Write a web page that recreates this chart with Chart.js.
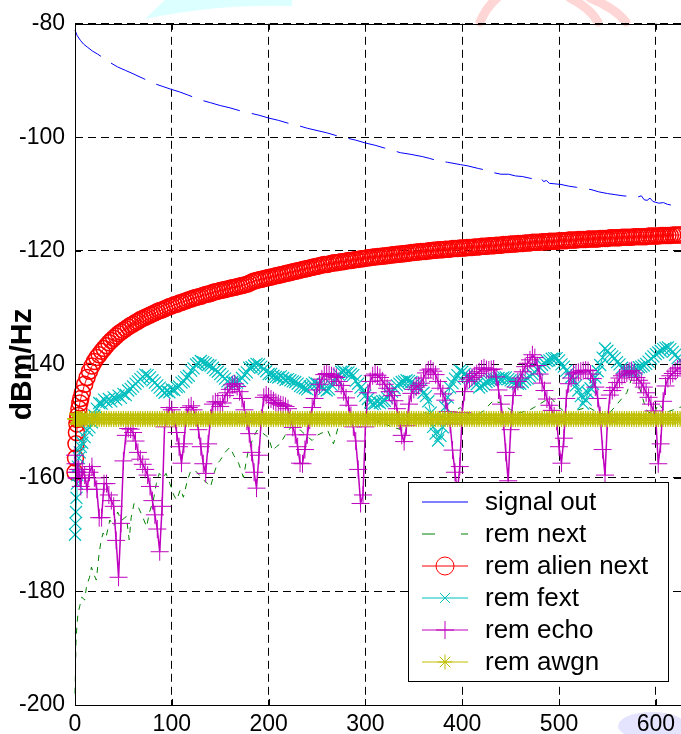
<!DOCTYPE html>
<html><head><meta charset="utf-8">
<script src="https://cdn.jsdelivr.net/npm/chart.js@4/dist/chart.umd.min.js"></script>
<style>html,body{margin:0;padding:0;background:#fff;overflow:hidden}canvas{display:block}</style>
</head><body>
<canvas id="c" width="681" height="734"></canvas>
<script>
// ---------- DATA ----------
const seriesNames = ['signal out','rem next','rem alien next','rem fext','rem echo','rem awgn'];
const xTicks = [0,100,200,300,400,500,600];
const yTicks = [-80,-100,-120,-140,-160,-180,-200];
const yLabel = 'dBm/Hz';

const signalX = [0,2,5.5,9,12.7,18,23,31,37,44,52,60,70,83,90,98.6,108,116,122,129.5,
140,150,160,170,180,190,200,210,220,230,240,250,260,270,280,290,300,310,320,330,
336,347,359,366,374,385,398,405,417,425,432,440,448,455,462,470,477,481,484,487,
490,496,502,510,518,525,533,541,550,558,566,573,580,585,588,591,594,597,603,608,
612,618,622,626];
const signalY = [-81.1,-82,-82.9,-83.6,-84.1,-84.8,-85.3,-86.2,-86.9,-87.6,-88.2,-88.8,-89.6,-90.6,-91,-91.5,-92,-92.5,-92.9,-93.4,
-93.9,-94.4,-94.8,-95.3,-95.7,-96.1,-96.6,-97,-97.5,-97.9,-98.4,-98.8,-99.2,-99.7,-100.1,-100.5,-101,-101.4,-101.9,-102.4,
-102.7,-103,-103.4,-103.7,-104.1,-104.4,-104.8,-105,-105.5,-105.8,-106.2,-106.5,-106.5,-106.8,-106.9,-107.2,-107.5,-107.1,-107.8,-107.6,
-108.1,-108.2,-108.3,-108.6,-108.8,-109,-109.2,-109.6,-109.9,-110.1,-110.3,-110.4,-110.6,-110.3,-111,-111.1,-110.7,-111.3,-111.6,-111.5,
-111.8,-112,-111.9,-112.2];

const nextX = [0,0.5,1,2,3,5,7,10,12,15,17,19,22,25,27,29,32,36,40,44,
48,53,56,58,61,65,69,74,77,81,84,87,91,94,98,102,105,109,112,116,
119,122,126,129,133,137,140,144,147,150,155,160,164,169,174,177,179,184,188,193,
197,200,204,208,212,217,223,228,233,238,242,245,250,256,261,267,272,278,285,292,
300,310,320,329,339,345,352,360,370,380,390,398,401,410,420,432,440,450,460,470,
480,491,500,510,520,530,540,550,560,570,575,579,583,590,597,603,610,618,626];
const nextY = [-198,-194,-189,-186,-184,-182.5,-181,-181.5,-179,-177.5,-175.7,-176.8,-178,-173.2,-171,-169.7,-170.5,-167.4,-168.5,-166,
-167.5,-166.8,-170.9,-167,-164.5,-165,-166.5,-168.6,-166,-163.9,-161,-159.2,-160,-159.2,-161,-163,-163.9,-162,-163.4,-160.5,
-159,-158.6,-159,-159.6,-160.4,-161,-161.6,-159,-157.5,-156.9,-155.5,-154.6,-156,-157.4,-159.9,-157,-155.2,-153,-151.6,-152,
-152.5,-152.9,-155.2,-154.5,-154,-152.5,-151.1,-151.3,-151.6,-152.4,-153,-153.4,-152.5,-152,-151.6,-154,-151,-150,-149.5,-150,
-149.3,-149.8,-150.5,-151.1,-151.6,-150,-149,-148.5,-148.8,-149.2,-148.5,-147.6,-148.1,-149,-148.5,-146.4,-146.8,-148,-148.5,-148,
-147,-145.8,-147.5,-149,-148,-147.5,-148.5,-149,-147,-145,-142.5,-140.6,-144,-148,-149,-146.9,-148.5,-148,-147.5];

// tone grid shared by the marker series
const toneX = [0,0.5,1,1.5,2,2.5,3,4,5,6,7.5,
10,12.5,15,17.5,20,22.5,25,27.5,30,32.5,
35,37.5,40,42.5,45,47.5,50,52.5,55,57.5,
60,62.5,65,67.5,70,72.5,75,77.5,80,82.5,
85,87.5,90,92.5,95,97.5,100,102.5,105,107.5,
110,112.5,115,117.5,120,122.5,125,127.5,130,132.5,
135,137.5,140,142.5,145,147.5,150,152.5,155,157.5,
160,162.5,165,167.5,170,172.5,175,177.5,180,182.5,
185,187.5,190,192.5,195,197.5,200,202.5,205,207.5,
210,212.5,215,217.5,220,222.5,225,227.5,230,232.5,
235,237.5,240,242.5,245,247.5,250,252.5,255,257.5,
260,262.5,265,267.5,270,272.5,275,277.5,280,282.5,
285,287.5,290,292.5,295,297.5,300,302.5,305,307.5,
310,312.5,315,317.5,320,322.5,325,327.5,330,332.5,
335,337.5,340,342.5,345,347.5,350,352.5,355,357.5,
360,362.5,365,367.5,370,372.5,375,377.5,380,382.5,
385,387.5,390,392.5,395,397.5,400,402.5,405,407.5,
410,412.5,415,417.5,420,422.5,425,427.5,430,432.5,
435,437.5,440,442.5,445,447.5,450,452.5,455,457.5,
460,462.5,465,467.5,470,472.5,475,477.5,480,482.5,
485,487.5,490,492.5,495,497.5,500,502.5,505,507.5,
510,512.5,515,517.5,520,522.5,525,527.5,530,532.5,
535,537.5,540,542.5,545,547.5,550,552.5,555,557.5,
560,562.5,565,567.5,570,572.5,575,577.5,580,582.5,
585,587.5,590,592.5,595,597.5,600,602.5,605,607.5,
610,612.5,615,617.5,620,622.5,625];

const alienY = [-159,-156.5,-154,-152,-150.5,-149.7,-149,-147.8,-146.8,-146,-145,
-143.5,-142.3,-141.2,-140.3,-139.5,-138.8,-138.3,-137.7,-137.2,-136.7,
-136.2,-135.8,-135.4,-135,-134.6,-134.3,-134,-133.7,-133.4,-133.1,
-132.9,-132.6,-132.4,-132.1,-131.9,-131.7,-131.5,-131.3,-131.1,-130.9,
-130.7,-130.5,-130.4,-130.2,-130,-129.8,-129.7,-129.5,-129.4,-129.2,
-129.1,-128.9,-128.8,-128.6,-128.5,-128.3,-128.2,-128.1,-128,-127.8,
-127.7,-127.6,-127.5,-127.3,-127.2,-127.1,-127,-126.9,-126.8,-126.7,
-126.6,-126.5,-126.4,-126.3,-126.2,-126.1,-126,-125.9,-125.7,-125.5,
-125.3,-125.2,-125.1,-125,-124.9,-124.8,-124.7,-124.6,-124.5,-124.4,
-124.3,-124.2,-124.1,-124,-123.9,-123.8,-123.7,-123.6,-123.5,-123.4,
-123.3,-123.2,-123.1,-123,-122.9,-122.8,-122.7,-122.6,-122.5,-122.4,
-122.4,-122.3,-122.2,-122.1,-122.1,-122,-121.9,-121.9,-121.8,-121.7,
-121.7,-121.6,-121.5,-121.5,-121.4,-121.4,-121.3,-121.2,-121.2,-121.1,
-121.1,-121,-121,-120.9,-120.9,-120.8,-120.8,-120.7,-120.7,-120.6,
-120.6,-120.5,-120.5,-120.4,-120.4,-120.3,-120.3,-120.2,-120.2,-120.1,
-120.1,-120.1,-120,-120,-119.9,-119.9,-119.8,-119.8,-119.8,-119.7,
-119.7,-119.7,-119.6,-119.6,-119.6,-119.5,-119.5,-119.5,-119.4,-119.4,
-119.4,-119.3,-119.3,-119.3,-119.2,-119.2,-119.2,-119.1,-119.1,-119.1,
-119,-119,-119,-118.9,-118.9,-118.9,-118.8,-118.8,-118.8,-118.7,
-118.7,-118.7,-118.6,-118.6,-118.6,-118.5,-118.5,-118.5,-118.5,-118.4,
-118.4,-118.4,-118.3,-118.3,-118.3,-118.3,-118.2,-118.2,-118.2,-118.2,
-118.1,-118.1,-118.1,-118.1,-118,-118,-118,-118,-117.9,-117.9,
-117.9,-117.9,-117.9,-117.8,-117.8,-117.8,-117.8,-117.7,-117.7,-117.7,
-117.7,-117.7,-117.6,-117.6,-117.6,-117.6,-117.6,-117.5,-117.5,-117.5,
-117.5,-117.5,-117.5,-117.4,-117.4,-117.4,-117.4,-117.4,-117.3,-117.3,
-117.3,-117.3,-117.3,-117.2,-117.2,-117.2,-117.2];

const fextY = [-170,-168,-166,-163.5,-161,-159.5,-158,-156.5,-155.5,-154.5,-153.8,
-152.8,-151.6,-151.1,-150.2,-149,-147.8,-146.8,-146.9,-146.2,-146.6,
-146.1,-146.5,-145.8,-146.2,-145.5,-145.9,-145.2,-145.4,-144.6,-144.3,
-143.9,-143.4,-143,-142.6,-142.2,-141.8,-141.9,-142.3,-142.8,-143.2,
-143.7,-144.1,-144.6,-145,-144.7,-144.9,-144.4,-144.5,-144,-143.9,
-143.2,-143,-142.3,-142,-141.1,-140.7,-140,-139.8,-139.4,-139.6,
-139.8,-140.1,-140.2,-140.6,-141,-141.3,-141.7,-142.1,-142.5,-143,
-143.4,-143.1,-143.2,-143.2,-142.9,-142.4,-141.8,-141.4,-140.6,-140.5,
-140.2,-139.9,-140,-140.4,-140.8,-141.2,-141.7,-141.7,-142,-142.2,
-142.3,-142.1,-142.4,-142.7,-142.6,-142.8,-143,-143.1,-143.4,-143.8,
-144,-144.2,-144.4,-143.9,-143.5,-143.2,-143.4,-143.6,-144,-144.3,
-144.6,-144.4,-143.6,-143,-142.5,-141.8,-141.3,-141.2,-141.5,-141.4,
-141.7,-141.9,-142.9,-143.4,-144.1,-144.7,-145.5,-146.1,-146.7,-147,
-146.9,-146.6,-146.8,-146.5,-146.4,-145.9,-145.3,-144.8,-144.2,-143.7,
-143.4,-143.1,-143,-142.8,-142.9,-143.1,-143.5,-143.7,-144.1,-144.3,
-145,-145.6,-146.5,-148.5,-151,-152.2,-153.4,-152.6,-151.1,-147.5,
-145.8,-144.1,-143.3,-142.5,-141.9,-141.1,-141.3,-141.7,-142,-142.3,
-142.6,-143.2,-143.5,-144.1,-143.8,-143.5,-143.1,-142.9,-142.7,-142.6,
-142.6,-142.4,-142.5,-142.3,-142.3,-142.6,-142.8,-143,-143.2,-143.4,
-143.4,-143.1,-142.7,-142.5,-142.1,-141.7,-141.4,-140.9,-140.5,-140.1,
-139.8,-139.4,-139.3,-139,-138.9,-138.9,-139.3,-140,-140.4,-141.1,
-141.5,-142.3,-142.8,-143.7,-144.6,-145.6,-146.9,-146.2,-145,-144.2,
-143.4,-142.3,-141.2,-140.1,-138.8,-137.2,-137.6,-138.2,-138.6,-138.9,
-139.6,-140,-140.6,-141.1,-141.1,-141.2,-141.1,-141.1,-140.8,-140.5,
-140.4,-140.2,-139.9,-139.5,-139,-138.6,-138.2,-137.9,-137.6,-137.3,
-137.1,-137,-137.3,-137.8,-138.3,-138.9,-139.3];

const echoY = [-156,-157.5,-159,-160,-160,-159,-158.5,-158.5,-160,-161.5,-158.5,
-159.5,-162,-159,-158,-160,-162,-167,-167,-161,-161,
-163,-164,-165,-171,-177.5,-168,-157,-152.5,-151.3,-151.4,
-152,-153.5,-155.5,-156.7,-157.6,-158.5,-159.5,-161.5,-164,-166.5,
-169,-173,-165,-151,-149,-147.6,-148,-149.5,-152,-154.5,
-157.4,-154,-148.8,-147.6,-147.3,-148,-149.4,-151.5,-154.5,-157.5,
-159.2,-154,-149.5,-147,-146.6,-146.6,-147.4,-146.8,-145.5,-145,
-144.4,-143.6,-143.4,-143.9,-144.8,-146,-148,-150,-152.2,-155.5,
-159,-161.8,-156,-149.5,-145.8,-145.4,-145.8,-146.1,-146.4,-146.7,
-146.9,-147.1,-147.2,-147.4,-147.8,-149.5,-151.1,-152.4,-154.5,-157.4,
-157.5,-155,-152.4,-149.8,-147.6,-146,-144.5,-143.5,-142.6,-141.8,
-141.6,-141.8,-142,-142.1,-142.3,-143,-143.7,-144.8,-145.9,-147.2,
-149,-151,-153.5,-158.5,-164.5,-163,-151,-145,-143,-142,
-141.7,-141.9,-142.3,-142.9,-143.5,-144.2,-144.8,-145.5,-146.4,-147.8,
-149.8,-152.5,-153.6,-150.8,-147,-145.1,-144.4,-144,-143.7,-143.3,
-142.4,-141.5,-141,-140.8,-141.2,-141.8,-143,-144.2,-145.2,-146.3,
-148.3,-150.5,-155.1,-159,-162.5,-158,-148.5,-144.8,-143,-142.6,
-142.3,-142,-141.6,-141.3,-140.8,-140.6,-140.9,-141,-140.9,-140.8,
-142.2,-144.5,-147,-150,-155.5,-160.5,-151.5,-145.5,-144,-143,
-142.4,-141.3,-140.4,-139.8,-139.2,-138.3,-138.8,-140.2,-141.7,-143.3,
-144.6,-146.1,-147.2,-148.1,-149.1,-150,-154.5,-157.4,-153,-146,
-143.4,-142.4,-141.7,-141.5,-141.4,-141.2,-141.1,-141,-141.1,-141.7,
-142.5,-144,-146,-149,-155,-159.5,-150,-145.4,-144.6,-144.1,
-143.2,-142.4,-142,-141.7,-141.5,-141.2,-141.1,-141.5,-142.3,-142.8,
-143.3,-144,-145,-145.8,-147,-148.2,-149.5,-157.5,-154,-146.5,
-143.8,-142.5,-142,-141.6,-141.2,-140.8,-140.6];

const awgnY = [-149.6,-149.6,-149.6,-149.6,-149.6,-149.6,-149.6,-149.6,-149.6,-149.6,-149.6,
-149.6,-149.6,-149.6,-149.6,-149.6,-149.6,-149.6,-149.6,-149.6,-149.6,
-149.6,-149.6,-149.6,-149.6,-149.6,-149.6,-149.6,-149.6,-149.6,-149.6,
-149.6,-149.6,-149.6,-149.6,-149.6,-149.6,-149.6,-149.6,-149.6,-149.6,
-149.6,-149.6,-149.6,-149.6,-149.6,-149.6,-149.6,-149.6,-149.6,-149.6,
-149.6,-149.6,-149.6,-149.6,-149.6,-149.6,-149.6,-149.6,-149.6,-149.6,
-149.6,-149.6,-149.6,-149.6,-149.6,-149.6,-149.6,-149.6,-149.6,-149.6,
-149.6,-149.6,-149.6,-149.6,-149.6,-149.6,-149.6,-149.6,-149.6,-149.6,
-149.6,-149.6,-149.6,-149.6,-149.6,-149.6,-149.6,-149.6,-149.6,-149.6,
-149.6,-149.6,-149.6,-149.6,-149.6,-149.6,-149.6,-149.6,-149.6,-149.6,
-149.6,-149.6,-149.6,-149.6,-149.6,-149.6,-149.6,-149.6,-149.6,-149.6,
-149.6,-149.6,-149.6,-149.6,-149.6,-149.6,-149.6,-149.6,-149.6,-149.6,
-149.6,-149.6,-149.6,-149.6,-149.6,-149.6,-149.6,-149.6,-149.6,-149.6,
-149.6,-149.6,-149.6,-149.6,-149.6,-149.6,-149.6,-149.6,-149.6,-149.6,
-149.6,-149.6,-149.6,-149.6,-149.6,-149.6,-149.6,-149.6,-149.6,-149.6,
-149.6,-149.6,-149.6,-149.6,-149.6,-149.6,-149.6,-149.6,-149.6,-149.6,
-149.6,-149.6,-149.6,-149.6,-149.6,-149.6,-149.6,-149.6,-149.6,-149.6,
-149.6,-149.6,-149.6,-149.6,-149.6,-149.6,-149.6,-149.6,-149.6,-149.6,
-149.6,-149.6,-149.6,-149.6,-149.6,-149.6,-149.6,-149.6,-149.6,-149.6,
-149.6,-149.6,-149.6,-149.6,-149.6,-149.6,-149.6,-149.6,-149.6,-149.6,
-149.6,-149.6,-149.6,-149.6,-149.6,-149.6,-149.6,-149.6,-149.6,-149.6,
-149.6,-149.6,-149.6,-149.6,-149.6,-149.6,-149.6,-149.6,-149.6,-149.6,
-149.6,-149.6,-149.6,-149.6,-149.6,-149.6,-149.6,-149.6,-149.6,-149.6,
-149.6,-149.6,-149.6,-149.6,-149.6,-149.6,-149.6,-149.6,-149.6,-149.6,
-149.6,-149.6,-149.6,-149.6,-149.6,-149.6,-149.6,-149.6,-149.6,-149.6,
-149.6,-149.6,-149.6,-149.6,-149.6,-149.6,-149.6];

// ---------- STYLE ----------
const FONT = "Arial, 'Liberation Sans', 'Helvetica', sans-serif";
const colors = ['#0000ff','#008000','#ff0000','#00bfbf','#bf00bf','#bfbf00'];
const legendDash = [[], [13,26], [], [], [], []];
const legendMarker = [null, null, ['circle',9], ['crossRot',7], ['cross',9], ['star',7.5]];

function pairs(xs, ys){ return xs.map((x,i)=>({x:x, y:ys[i]})); }

function drawMarker(ctx, style, r, x, y){
  ctx.beginPath();
  const d = r*Math.SQRT1_2;
  if (style==='circle'){ ctx.arc(x,y,r,0,Math.PI*2); }
  if (style==='cross' || style==='star'){ ctx.moveTo(x-r,y); ctx.lineTo(x+r,y); ctx.moveTo(x,y-r); ctx.lineTo(x,y+r); }
  if (style==='crossRot' || style==='star'){ ctx.moveTo(x-d,y-d); ctx.lineTo(x+d,y+d); ctx.moveTo(x-d,y+d); ctx.lineTo(x+d,y-d); }
  ctx.stroke();
}

const framePlugin = {
  id:'frame',
  beforeDraw(chart){
    // faint watermark traces seen in the reference image
    const ctx = chart.ctx;
    ctx.save();
    ctx.fillStyle = '#dcffff';
    ctx.beginPath(); ctx.moveTo(145,19); ctx.quadraticCurveTo(215,4,292,6); ctx.lineTo(292,0); ctx.lineTo(165,0); ctx.closePath(); ctx.fill();
    ctx.strokeStyle = '#ffd6d6'; ctx.lineWidth = 9; ctx.lineCap='round';
    ctx.beginPath(); ctx.moveTo(480,22); ctx.quadraticCurveTo(486,8,497,-2); ctx.stroke();
    ctx.beginPath(); ctx.moveTo(570,-2); ctx.quadraticCurveTo(590,8,598,22); ctx.stroke();
    ctx.beginPath(); ctx.moveTo(590,-2); ctx.quadraticCurveTo(615,8,626,22); ctx.stroke();
    ctx.fillStyle = '#e4e4ff';
    ctx.beginPath(); ctx.ellipse(652,726,34,14,0,0,Math.PI*2); ctx.fill();
    ctx.restore();
  },
  afterDatasetsDraw(chart){
    const {ctx, chartArea:a, scales} = chart;
    ctx.save();
    ctx.strokeStyle='#000'; ctx.lineWidth=1; ctx.setLineDash([]);
    ctx.strokeRect(Math.round(a.left)+0.5, Math.round(a.top)+0.5, Math.round(a.right-a.left), Math.round(a.bottom-a.top));
    ctx.beginPath();
    xTicks.forEach(v=>{ const p=Math.round(scales.x.getPixelForValue(v))+0.5;
      ctx.moveTo(p,a.bottom); ctx.lineTo(p,a.bottom-6); ctx.moveTo(p,a.top); ctx.lineTo(p,a.top+6); });
    yTicks.forEach(v=>{ const p=Math.round(scales.y.getPixelForValue(v))+0.5;
      ctx.moveTo(a.left,p); ctx.lineTo(a.left+6,p); ctx.moveTo(a.right,p); ctx.lineTo(a.right-7,p); });
    ctx.stroke();
    ctx.restore();
  },
  afterDraw(chart){
    const ctx = chart.ctx;
    ctx.save();
    const bx=408.5, by=482.5, bw=260, bh=199;
    ctx.fillStyle='#fff'; ctx.fillRect(bx,by,bw,bh);
    ctx.strokeStyle='#000'; ctx.lineWidth=1; ctx.strokeRect(bx,by,bw,bh);
    chart.data.datasets.forEach((ds,i)=>{
      const y = 502 + i*32;
      ctx.strokeStyle = ds.borderColor; ctx.lineWidth = 1;
      ctx.setLineDash(legendDash[i]);
      ctx.beginPath(); ctx.moveTo(422,y); ctx.lineTo(468,y); ctx.stroke();
      ctx.setLineDash([]);
      const m = legendMarker[i];
      if (m){ ctx.strokeStyle = ds.borderColor; ctx.lineWidth=1; drawMarker(ctx, m[0], m[1], 445, y); }
      ctx.fillStyle='#000'; ctx.font = '26px '+FONT; ctx.textAlign='left'; ctx.textBaseline='middle';
      ctx.fillText(ds.label, 485, y+1);
    });
    ctx.restore();
  }
};

const base = {borderWidth:1, tension:0, fill:false, clip:false, pointBorderWidth:1, pointBackgroundColor:'rgba(0,0,0,0)'};
const datasets = [
  Object.assign({}, base, {label:seriesNames[0], data:pairs(signalX,signalY), borderColor:colors[0], pointRadius:0, borderDash:[38,12], order:6}),
  Object.assign({}, base, {label:seriesNames[1], data:pairs(nextX,nextY), borderColor:colors[1], pointRadius:0, borderDash:[6,6], order:5}),
  Object.assign({}, base, {label:seriesNames[2], data:pairs(toneX,alienY), borderColor:colors[2], pointBorderColor:colors[2], pointStyle:'circle', pointRadius:8, pointBorderWidth:1.5, order:4}),
  Object.assign({}, base, {label:seriesNames[3], data:pairs(toneX,fextY), borderColor:colors[3], pointBorderColor:colors[3], pointStyle:'crossRot', pointRadius:8.5, pointBorderWidth:1.2, order:3}),
  Object.assign({}, base, {label:seriesNames[4], data:pairs(toneX,echoY), borderColor:colors[4], pointBorderColor:colors[4], pointStyle:'cross', pointRadius:9, borderWidth:1.5, order:2}),
  Object.assign({}, base, {label:seriesNames[5], data:pairs(toneX,awgnY), borderColor:colors[5], pointBorderColor:colors[5], pointStyle:'star', pointRadius:8, pointBorderWidth:1.2, order:1})
];

new Chart(document.getElementById('c'), {
  type:'line',
  data:{datasets:datasets},
  plugins:[framePlugin],
  options:{
    responsive:false, animation:false, events:[],
    layout:{autoPadding:false, padding:{top:21, right:0, bottom:0, left:0}},
    plugins:{legend:{display:false}, tooltip:{enabled:false}},
    scales:{
      x:{type:'linear', min:0, max:626,
        afterBuildTicks:s=>{ s.ticks = xTicks.map(v=>({value:v})); },
        afterFit:s=>{ s.height = 29; s.paddingLeft = 0; s.paddingRight = 0; },
        ticks:{font:{family:FONT, size:23}, color:'#000', padding:6, maxRotation:0, autoSkip:false, includeBounds:false},
        grid:{color:'#000', lineWidth:1, drawTicks:false},
        border:{display:false, dash:[8,5]}
      },
      y:{type:'linear', min:-200, max:-80,
        afterBuildTicks:s=>{ s.ticks = yTicks.map(v=>({value:v})); },
        afterFit:s=>{ s.width = 75; },
        ticks:{font:{family:FONT, size:23}, color:'#000', padding:10, autoSkip:false},
        grid:{color:'#000', lineWidth:1, drawTicks:false},
        border:{display:false, dash:[8,5]},
        title:{display:true, text:yLabel, color:'#000', font:{family:FONT, size:30, weight:'bold'}, padding:{top:5,bottom:0}}
      }
    }
  }
});
</script>
</body></html>
